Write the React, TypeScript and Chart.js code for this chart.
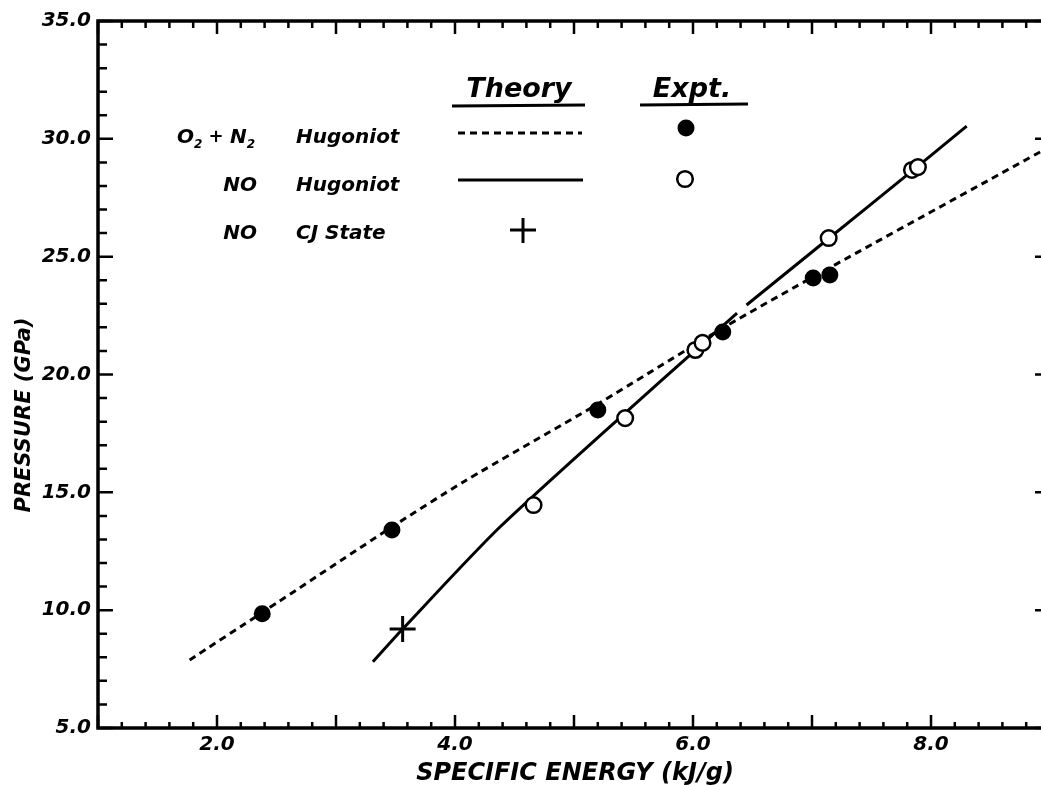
import { useEffect, useRef } from 'react';
import { Chart, registerables } from 'chart.js';

Chart.register(...registerables);

// ---------- data ----------
const xLabelTicks = [2, 4, 6, 8];
const yLabelTicks = [5, 10, 15, 20, 25, 30, 35];

// O2 + N2 experiment (filled circles)
const o2n2ExptEnergy = [2.38, 3.47, 5.2, 6.25, 7.01, 7.15];
const o2n2ExptPressure = [9.85, 13.4, 18.49, 21.8, 24.09, 24.22];

// NO experiment (open circles)
const noExptEnergy = [4.66, 5.43, 6.02, 6.08, 7.14, 7.84, 7.89];
const noExptPressure = [14.46, 18.15, 21.04, 21.34, 25.79, 28.68, 28.8];

// O2 + N2 Hugoniot theory (dashed)
const o2n2TheoryEnergy = [1.77, 2.38, 3.47, 4.07, 5.2, 6.25, 7.07, 8.92, 9.0];
const o2n2TheoryPressure = [7.89, 9.9, 13.53, 15.44, 18.75, 21.97, 24.31, 29.45, 29.65];

// NO Hugoniot theory (solid, drawn in two pieces)
const noTheoryLowEnergy = [3.31, 3.56, 4.38, 5.74, 6.37];
const noTheoryLowPressure = [7.81, 9.2, 13.54, 19.77, 22.6];
const noTheoryHighEnergy = [6.45, 7.14, 7.87, 8.3];
const noTheoryHighPressure = [22.95, 25.77, 28.76, 30.54];

// NO CJ state (plus)
const cjEnergy = [3.56];
const cjPressure = [9.2];

// legend / titles text
const legendHeaders = ['Theory', 'Expt.'];
const legendSpeciesO2N2 = ['O', '2', ' + ', 'N', '2']; // O₂ + N₂ (subscripts drawn small)
const legendSpeciesNO = ['NO', 'NO'];
const legendKinds = ['Hugoniot', 'Hugoniot', 'CJ State'];
const xTitle = 'SPECIFIC ENERGY (kJ/g)';
const yTitle = 'PRESSURE (GPa)';

const FONT = "'DejaVu Sans', 'Liberation Sans', sans-serif";
const tickFont = { family: FONT, size: 20, style: 'italic' as const, weight: 'bold' as const };

const pts = (xs: number[], ys: number[]) => xs.map((x, i) => ({ x, y: ys[i] }));
const near = (a: number, b: number) => Math.abs(a - b) < 1e-6;

const decorPlugin = {
  id: 'decor',
  beforeDatasetsDraw(chart: any) {
    const ctx = chart.ctx;
    const { left, right, top, bottom } = chart.chartArea;
    const xs = chart.scales.x;
    const ys = chart.scales.y;
    ctx.save();
    ctx.strokeStyle = '#000';
    ctx.lineWidth = 2.5;
    ctx.beginPath();
    xs.ticks.forEach((t: any) => {
      const px = xs.getPixelForValue(t.value);
      const major = near(t.value, Math.round(t.value));
      ctx.moveTo(px, bottom);
      ctx.lineTo(px, bottom - (major ? 13 : 6));
      ctx.moveTo(px, top);
      ctx.lineTo(px, top + (major ? 13 : 7));
    });
    ys.ticks.forEach((t: any) => {
      const py = ys.getPixelForValue(t.value);
      const major = near(t.value % 5, 0);
      ctx.moveTo(left, py);
      ctx.lineTo(left + (major ? 15 : 9), py);
      ctx.moveTo(right, py);
      ctx.lineTo(right - (major ? 15 : 9), py);
    });
    ctx.stroke();
    ctx.lineWidth = 3.5;
    ctx.strokeRect(left, top, right - left, bottom - top);
    ctx.restore();
  },
  afterDraw(chart: any) {
    const ctx = chart.ctx;
    ctx.save();
    ctx.fillStyle = '#000';
    ctx.strokeStyle = '#000';

    // axis titles
    ctx.font = `italic bold 24px ${FONT}`;
    ctx.textAlign = 'center';
    ctx.textBaseline = 'middle';
    ctx.fillText(xTitle, 575, 774);
    ctx.save();
    ctx.translate(25, 415);
    ctx.rotate(-Math.PI / 2);
    ctx.font = `italic bold 21px ${FONT}`;
    ctx.fillText(yTitle, 0, 0);
    ctx.restore();

    // legend headers
    ctx.textBaseline = 'alphabetic';
    ctx.font = `italic bold 27px ${FONT}`;
    ctx.fillText(legendHeaders[0], 519, 97);
    ctx.fillText(legendHeaders[1], 692, 97);
    ctx.lineWidth = 3;
    ctx.beginPath();
    ctx.moveTo(452, 106);
    ctx.lineTo(585, 105);
    ctx.moveTo(640, 105);
    ctx.lineTo(748, 104);
    ctx.stroke();

    const rowBase = [143, 191, 239];
    // row 1: O2 + N2 with subscripts
    {
      let x = 177;
      const sizes = [20, 12, 18, 20, 12];
      const dys = [0, 5, -1, 0, 5];
      legendSpeciesO2N2.forEach((s, i) => {
        ctx.font = `italic bold ${sizes[i]}px ${FONT}`;
        ctx.textAlign = 'left';
        ctx.fillText(s, x, rowBase[0] + dys[i]);
        x += ctx.measureText(s).width;
      });
    }
    ctx.font = `italic bold 20px ${FONT}`;
    ctx.textAlign = 'right';
    ctx.fillText(legendSpeciesNO[0], 257, rowBase[1]);
    ctx.fillText(legendSpeciesNO[1], 257, rowBase[2]);
    ctx.textAlign = 'left';
    legendKinds.forEach((k, i) => ctx.fillText(k, 296, rowBase[i]));

    // theory symbols
    ctx.lineWidth = 3;
    ctx.setLineDash([7, 5]);
    ctx.beginPath();
    ctx.moveTo(458, 133);
    ctx.lineTo(582, 133);
    ctx.stroke();
    ctx.setLineDash([]);
    ctx.beginPath();
    ctx.moveTo(458, 180);
    ctx.lineTo(583, 180);
    ctx.stroke();
    ctx.beginPath();
    ctx.moveTo(510, 230);
    ctx.lineTo(536, 230);
    ctx.moveTo(523, 218);
    ctx.lineTo(523, 243);
    ctx.stroke();

    // expt symbols
    ctx.beginPath();
    ctx.arc(686, 128, 8.5, 0, Math.PI * 2);
    ctx.fill();
    ctx.lineWidth = 2.5;
    ctx.beginPath();
    ctx.arc(685, 179, 7.8, 0, Math.PI * 2);
    ctx.stroke();

    ctx.restore();
  },
};

export default function App() {
  const ref = useRef<HTMLCanvasElement>(null);

  useEffect(() => {
    if (!ref.current) return;
    const chart = new Chart(ref.current, {
      type: 'scatter',
      data: {
        datasets: [
          {
            label: 'NO CJ State',
            data: pts(cjEnergy, cjPressure),
            pointStyle: 'cross',
            pointRadius: 13,
            borderWidth: 3,
            borderColor: '#000',
            backgroundColor: '#000',
            showLine: false,
            order: 0,
          },
          {
            label: 'O2 + N2 Expt.',
            data: pts(o2n2ExptEnergy, o2n2ExptPressure),
            pointStyle: 'circle',
            pointRadius: 8.5,
            borderWidth: 0,
            backgroundColor: '#000',
            borderColor: '#000',
            showLine: false,
            order: 0,
          },
          {
            label: 'NO Expt.',
            data: pts(noExptEnergy, noExptPressure),
            pointStyle: 'circle',
            pointRadius: 7.8,
            borderWidth: 2.5,
            backgroundColor: '#fff',
            borderColor: '#000',
            showLine: false,
            order: 0,
          },
          {
            label: 'O2 + N2 Hugoniot',
            data: pts(o2n2TheoryEnergy, o2n2TheoryPressure),
            showLine: true,
            pointRadius: 0,
            borderColor: '#000',
            borderWidth: 3,
            borderDash: [7, 5],
            tension: 0.25,
            order: 1,
          },
          {
            label: 'NO Hugoniot (low)',
            data: pts(noTheoryLowEnergy, noTheoryLowPressure),
            showLine: true,
            pointRadius: 0,
            borderColor: '#000',
            borderWidth: 3,
            tension: 0.25,
            order: 1,
          },
          {
            label: 'NO Hugoniot (high)',
            data: pts(noTheoryHighEnergy, noTheoryHighPressure),
            showLine: true,
            pointRadius: 0,
            borderColor: '#000',
            borderWidth: 3,
            tension: 0.25,
            order: 1,
          },
        ],
      },
      options: {
        responsive: false,
        animation: false,
        events: [],
        layout: { padding: { left: 0, right: 0, top: 21, bottom: 0 } },
        plugins: {
          legend: { display: false },
          tooltip: { enabled: false },
        },
        scales: {
          x: {
            type: 'linear',
            min: 1,
            max: 9,
            afterFit: (s: any) => {
              s.height = 57;
              s.paddingLeft = 0;
              s.paddingRight = 0;
            },
            grid: { display: false, drawTicks: false },
            border: { display: false },
            ticks: {
              stepSize: 0.2,
              autoSkip: false,
              maxRotation: 0,
              padding: 5,
              color: '#000',
              font: tickFont,
              callback: (v: any) => {
                const n = Number(v);
                return xLabelTicks.some((t) => near(t, n)) ? n.toFixed(1) : '';
              },
            },
          },
          y: {
            type: 'linear',
            min: 5,
            max: 35,
            afterFit: (s: any) => {
              s.width = 98;
              s.paddingTop = 0;
              s.paddingBottom = 0;
            },
            grid: { display: false, drawTicks: false },
            border: { display: false },
            ticks: {
              stepSize: 1,
              autoSkip: false,
              padding: 7,
              color: '#000',
              font: tickFont,
              callback: (v: any) => {
                const n = Number(v);
                return yLabelTicks.some((t) => near(t, n)) ? n.toFixed(1) : '';
              },
            },
          },
        },
      },
      plugins: [decorPlugin],
    } as any);
    return () => chart.destroy();
  }, []);

  return (
    <div
      style={{
        position: 'fixed',
        left: 0,
        top: 0,
        width: 1041,
        height: 785,
        overflow: 'hidden',
        background: '#fff',
      }}
    >
      <canvas ref={ref} width={1066} height={785} style={{ display: 'block' }} />
    </div>
  );
}
